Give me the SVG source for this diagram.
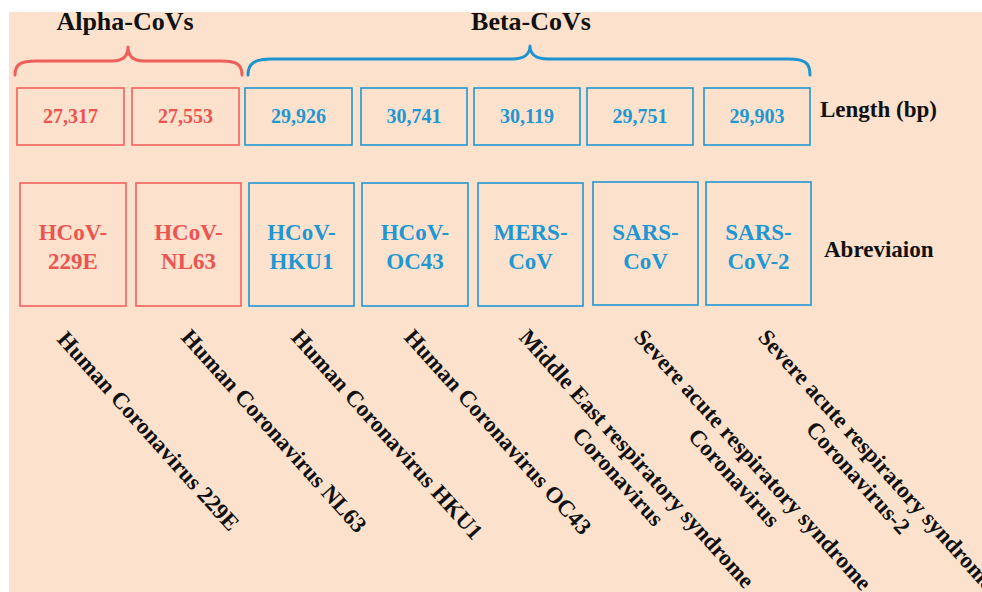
<svg xmlns="http://www.w3.org/2000/svg" width="982" height="592" viewBox="0 0 982 592">
<style>
.bg{fill:#FCE1CC}
.ra{fill:none;stroke:#F0625E;stroke-width:1.6}
.bl{fill:none;stroke:#2196D3;stroke-width:1.6}
.br{fill:none;stroke-width:3;stroke-linecap:round;stroke-linejoin:round}
text{font-family:"Liberation Serif","Times New Roman",serif;font-weight:bold}
.num{font-size:20px;text-anchor:middle}
.ab{font-size:23px;text-anchor:middle}
.tr{fill:#EA5451}
.tb{fill:#1E97D3}
.hd{font-size:26px;fill:#111;text-anchor:middle}
.side{font-size:23px;fill:#111}
.lab{font-size:23px;fill:#111}
</style>
<rect width="982" height="592" fill="#fff"/>
<rect class="bg" x="9" y="12" width="973" height="580"/>

<g id="connectors">
<path class="br" stroke="#EE5E5B" d="M15,75 C15,64 21,61 36,61 L112,61 C123,61 128,56 128,47 C128,56 133,61 144,61 L221,61 C236,61 242,64 242,75"/>
<path class="br" stroke="#1D93D0" d="M248,75 C248,63 255,59 272,59 L512,59 C524,59 530,54 530,46 C530,54 536,59 548,59 L789,59 C805,59 810,63 810,75"/>
</g>

<g id="alpha-title"><text class="hd" x="125" y="30">Alpha-CoVs</text></g>
<g id="beta-title"><text class="hd" x="531" y="30">Beta-CoVs</text></g>

<g id="len-1"><rect class="ra" x="17" y="88" width="107" height="57"/><text class="num tr" x="70.5" y="123">27,317</text></g>
<g id="len-2"><rect class="ra" x="132" y="88" width="107" height="57"/><text class="num tr" x="185.5" y="123">27,553</text></g>
<g id="len-3"><rect class="bl" x="245" y="88" width="107" height="57"/><text class="num tb" x="298.5" y="123">29,926</text></g>
<g id="len-4"><rect class="bl" x="361" y="88" width="106" height="57"/><text class="num tb" x="414" y="123">30,741</text></g>
<g id="len-5"><rect class="bl" x="474" y="88" width="106" height="57"/><text class="num tb" x="527" y="123">30,119</text></g>
<g id="len-6"><rect class="bl" x="587" y="88" width="106" height="57"/><text class="num tb" x="640" y="123">29,751</text></g>
<g id="len-7"><rect class="bl" x="704" y="88" width="106" height="57"/><text class="num tb" x="757" y="123">29,903</text></g>

<g id="ab-1"><rect class="ra" x="20" y="183" width="106" height="123"/><text class="ab tr" x="73" y="240">HCoV-</text><text class="ab tr" x="73" y="269">229E</text></g>
<g id="ab-2"><rect class="ra" x="136" y="183" width="105" height="123"/><text class="ab tr" x="188.5" y="240">HCoV-</text><text class="ab tr" x="188.5" y="269">NL63</text></g>
<g id="ab-3"><rect class="bl" x="249" y="183" width="105" height="123"/><text class="ab tb" x="301.5" y="240">HCoV-</text><text class="ab tb" x="301.5" y="269">HKU1</text></g>
<g id="ab-4"><rect class="bl" x="362" y="183" width="106" height="123"/><text class="ab tb" x="415" y="240">HCoV-</text><text class="ab tb" x="415" y="269">OC43</text></g>
<g id="ab-5"><rect class="bl" x="478" y="183" width="105" height="123"/><text class="ab tb" x="530.5" y="240">MERS-</text><text class="ab tb" x="530.5" y="269">CoV</text></g>
<g id="ab-6"><rect class="bl" x="593" y="182" width="105" height="123"/><text class="ab tb" x="645.5" y="240">SARS-</text><text class="ab tb" x="645.5" y="269">CoV</text></g>
<g id="ab-7"><rect class="bl" x="706" y="182" width="105" height="123"/><text class="ab tb" x="758.5" y="240">SARS-</text><text class="ab tb" x="758.5" y="269">CoV-2</text></g>

<g id="row-length"><text class="side" x="820" y="117">Length (bp)</text></g>
<g id="row-abbrev"><text class="side" x="824" y="257">Abreviaion</text></g>

<g id="name-1" transform="translate(56,340) rotate(48)"><text class="lab">Human Coronavirus 229E</text></g>
<g id="name-2" transform="translate(180,338) rotate(48)"><text class="lab">Human Coronavirus NL63</text></g>
<g id="name-3" transform="translate(290,338) rotate(48)"><text class="lab">Human Coronavirus HKU1</text></g>
<g id="name-4" transform="translate(403,338) rotate(48)"><text class="lab">Human Coronavirus OC43</text></g>
<g id="name-5" transform="translate(518,338) rotate(48)"><text class="lab">Middle East respiratory syndrome</text><text class="lab" x="170" y="26" text-anchor="middle">Coronavirus</text></g>
<g id="name-6" transform="translate(633,338) rotate(48)"><text class="lab">Severe acute respiratory syndrome</text><text class="lab" x="171.5" y="26" text-anchor="middle">Coronavirus</text></g>
<g id="name-7" transform="translate(757,338) rotate(48)"><text class="lab">Severe acute respiratory syndrome</text><text class="lab" x="171.5" y="26" text-anchor="middle">Coronavirus-2</text></g>
</svg>
